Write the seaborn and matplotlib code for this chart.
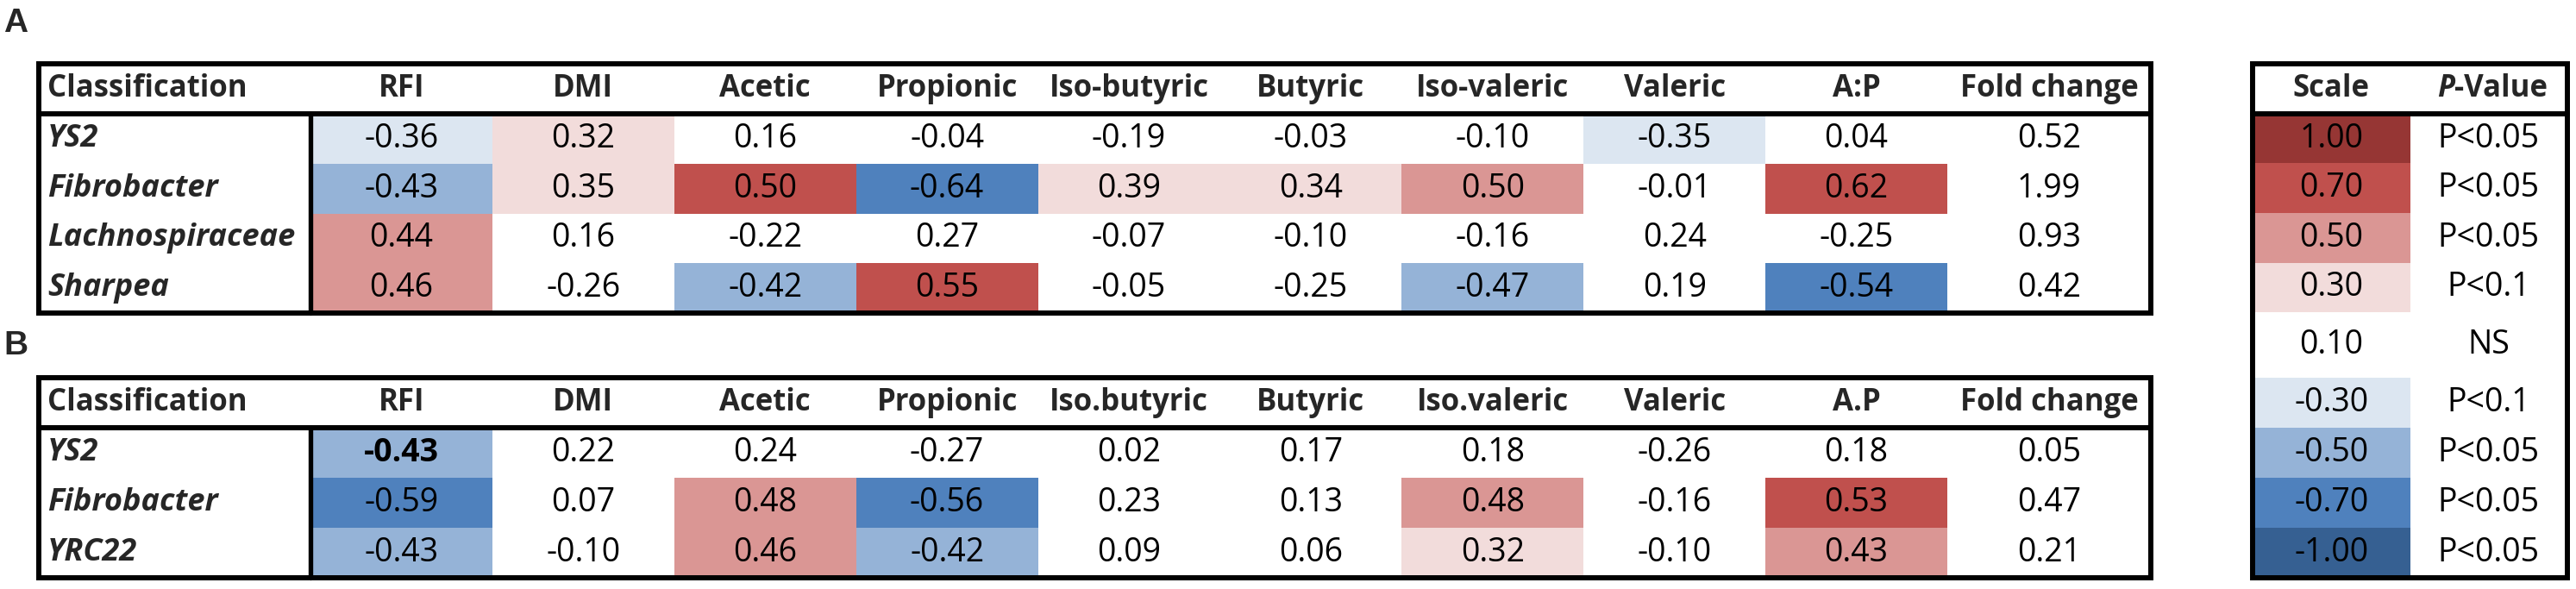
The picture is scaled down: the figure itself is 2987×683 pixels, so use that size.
import numpy as np
import pandas as pd
import seaborn as sns
import matplotlib.pyplot as plt
from matplotlib.colors import ListedColormap
from matplotlib.patches import Rectangle
from matplotlib.transforms import blended_transform_factory

sns.set_style("white")
plt.rcParams['font.family'] = ['Open Sans', 'DejaVu Sans']

# ---- data ----
cols_a = ["RFI", "DMI", "Acetic", "Propionic", "Iso-butyric", "Butyric", "Iso-valeric", "Valeric", "A:P"]
rows_a = ["YS2", "Fibrobacter", "Lachnospiraceae", "Sharpea"]
corr_a = [[-0.36, 0.32, 0.16, -0.04, -0.19, -0.03, -0.10, -0.35, 0.04],
          [-0.43, 0.35, 0.50, -0.64, 0.39, 0.34, 0.50, -0.01, 0.62],
          [0.44, 0.16, -0.22, 0.27, -0.07, -0.10, -0.16, 0.24, -0.25],
          [0.46, -0.26, -0.42, 0.55, -0.05, -0.25, -0.47, 0.19, -0.54]]
# significance level of each cell (sign = direction), sets the fill colour
level_a = [[-1, 1, 0, 0, 0, 0, 0, -1, 0],
           [-2, 1, 3, -3, 1, 1, 2, 0, 3],
           [2, 0, 0, 0, 0, 0, 0, 0, 0],
           [2, 0, -2, 3, 0, 0, -2, 0, -3]]
fold_a = [0.52, 1.99, 0.93, 0.42]

cols_b = ["RFI", "DMI", "Acetic", "Propionic", "Iso.butyric", "Butyric", "Iso.valeric", "Valeric", "A.P"]
rows_b = ["YS2", "Fibrobacter", "YRC22"]
corr_b = [[-0.43, 0.22, 0.24, -0.27, 0.02, 0.17, 0.18, -0.26, 0.18],
          [-0.59, 0.07, 0.48, -0.56, 0.23, 0.13, 0.48, -0.16, 0.53],
          [-0.43, -0.10, 0.46, -0.42, 0.09, 0.06, 0.32, -0.10, 0.43]]
level_b = [[-2, 0, 0, 0, 0, 0, 0, 0, 0],
           [-3, 0, 2, -3, 0, 0, 2, 0, 3],
           [-2, 0, 2, -2, 0, 0, 1, 0, 2]]
fold_b = [0.05, 0.47, 0.21]
bold_b = [(0, 0)]

scale_vals = [1.00, 0.70, 0.50, 0.30, 0.10, -0.30, -0.50, -0.70, -1.00]
scale_levels = [4, 3, 2, 1, 0, -1, -2, -3, -4]
scale_p = ["P<0.05", "P<0.05", "P<0.05", "P<0.1", "NS", "P<0.1", "P<0.05", "P<0.05", "P<0.05"]

level_colors = ["#366092", "#4F81BD", "#95B3D7", "#DCE6F1", "#FFFFFF",
                "#F2DCDB", "#DA9694", "#C0504D", "#963634"]
cmap = ListedColormap(level_colors)

# ---- layout (pixels) ----
W, H = 2987, 683
LEFT, DIV_X, FOLD_X, RIGHT = 45, 360, 2258, 2494
S_LEFT, S_SPLIT, S_RIGHT = 2612, 2797, 2977
LW = 4.3
HDR_FS, VAL_FS, ROW_FS = 25, 27, 26

fig = plt.figure(figsize=(W / 100, H / 100), dpi=100)


def box(x0, y0, x1, y1):
    return [x0 / W, 1 - y1 / H, (x1 - x0) / W, (y1 - y0) / H]


ov = fig.add_axes([0, 0, 1, 1], zorder=5)
ov.set_xlim(0, W)
ov.set_ylim(H, 0)
ov.set_axis_off()
ov.patch.set_alpha(0)


def draw_table(top, hsep, bottom, cols, rows, corr, level, fold, bold_cells=()):
    row_h = (bottom - hsep) / len(rows)
    hdr_y = -(hsep - top) / 2 / row_h

    ax = fig.add_axes(box(DIV_X, hsep, FOLD_X, bottom))
    sns.heatmap(pd.DataFrame(level, index=rows, columns=cols), ax=ax, cmap=cmap,
                vmin=-4.5, vmax=4.5, cbar=False, annot=np.array(corr), fmt=".2f",
                annot_kws=dict(size=VAL_FS, color="black"),
                xticklabels=False, yticklabels=False)
    for i, j in bold_cells:
        ax.texts[i * len(cols) + j].set_fontweight("bold")
    for j, c in enumerate(cols):
        ax.text(j + 0.5, hdr_y, c, ha="center", va="center", fontsize=HDR_FS,
                fontweight="bold", clip_on=False)

    axf = fig.add_axes(box(FOLD_X, hsep, RIGHT, bottom))
    sns.heatmap(pd.DataFrame({"Fold change": np.zeros(len(rows))}, index=rows), ax=axf,
                cmap=cmap, vmin=-4.5, vmax=4.5, cbar=False,
                annot=np.array(fold).reshape(-1, 1), fmt=".2f",
                annot_kws=dict(size=VAL_FS, color="black"),
                xticklabels=False, yticklabels=False)
    axf.text(0.5, hdr_y, "Fold change", ha="center", va="center", fontsize=HDR_FS,
             fontweight="bold", clip_on=False)

    tr = blended_transform_factory(ov.transData, ax.transData)
    ax.text(55, hdr_y, "Classification", transform=tr, ha="left", va="center",
            fontsize=HDR_FS, fontweight="bold", clip_on=False)
    for i, r in enumerate(rows):
        ax.text(55, i + 0.5, r, transform=tr, ha="left", va="center", fontsize=ROW_FS,
                fontweight="bold", fontstyle="italic", clip_on=False)

    ov.add_patch(Rectangle((LEFT, top), RIGHT - LEFT, bottom - top, fill=False,
                           lw=LW, ec="black"))
    ov.plot([LEFT, RIGHT], [hsep, hsep], color="black", lw=LW)
    ov.plot([DIV_X, DIV_X], [hsep, bottom], color="black", lw=LW * 0.9)


draw_table(74, 132, 363, cols_a, rows_a, corr_a, level_a, fold_a)
draw_table(438, 496, 670, cols_b, rows_b, corr_b, level_b, fold_b, bold_b)

# ---- colour scale table ----
seg_edges = [132, 362, 438, 496, 670]
seg_rows = [0, 4, 5, 6, 9]
for k in range(len(seg_edges) - 1):
    sl = slice(seg_rows[k], seg_rows[k + 1])
    lv = scale_levels[sl]
    labels = np.array([[f"{v:.2f}", p] for v, p in zip(scale_vals[sl], scale_p[sl])])
    ax = fig.add_axes(box(S_LEFT, seg_edges[k], S_RIGHT, seg_edges[k + 1]))
    sns.heatmap(pd.DataFrame({"Scale": lv, "P-Value": np.zeros(len(lv))}), ax=ax,
                cmap=cmap, vmin=-4.5, vmax=4.5, cbar=False, annot=labels, fmt="",
                annot_kws=dict(size=VAL_FS, color="black"),
                xticklabels=False, yticklabels=False)
    if k == 0:
        row_h = (seg_edges[1] - seg_edges[0]) / 4
        hdr_y = -(132 - 74) / 2 / row_h
        ax.text(0.5, hdr_y, "Scale", ha="center", va="center", fontsize=HDR_FS,
                fontweight="bold", clip_on=False)
        tr = blended_transform_factory(ov.transData, ax.transData)
        ax.text(2846, hdr_y, "P", transform=tr, ha="right", va="center", fontsize=HDR_FS,
                fontweight="bold", fontstyle="italic", clip_on=False)
        ax.text(2846, hdr_y, "-Value", transform=tr, ha="left", va="center",
                fontsize=HDR_FS, fontweight="bold", clip_on=False)

ov.add_patch(Rectangle((S_LEFT, 74), S_RIGHT - S_LEFT, 670 - 74, fill=False,
                       lw=LW, ec="black"))
ov.plot([S_LEFT, S_RIGHT], [132, 132], color="black", lw=LW)

# panel letters
ov.text(4, 27, "A", ha="left", va="center", fontsize=28, fontweight="bold",
        family=["Liberation Sans", "DejaVu Sans"])
ov.text(4, 401, "B", ha="left", va="center", fontsize=28, fontweight="bold",
        family=["Liberation Sans", "DejaVu Sans"])

fig.savefig("out.png", dpi=100)
